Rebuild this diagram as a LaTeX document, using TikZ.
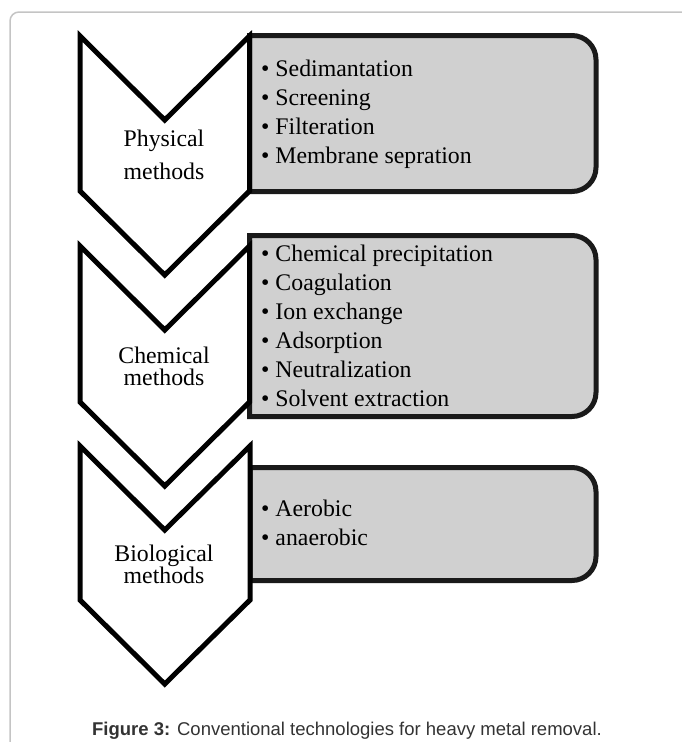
\documentclass[tikz,border=0pt]{standalone}
\usepackage{fontspec}
\setmainfont{Liberation Serif}
\newfontfamily\figcapfont{Liberation Sans}
\usetikzlibrary{positioning}
\definecolor{boxgray}{HTML}{D0D0D0}
\definecolor{boxline}{HTML}{1A1A1A}
\definecolor{framegray}{HTML}{C4C4C4}
\definecolor{captext}{HTML}{333333}
\tikzset{chev/.style={draw=black, fill=white, line width=5pt, line join=miter}}
\tikzset{itembox/.style={draw=boxline, fill=boxgray, line width=5pt}}
\tikzset{lab/.style={inner sep=0pt, font=\fontsize{23.8}{28}\selectfont, anchor=base}}
\tikzset{item/.style={inner sep=0pt, font=\fontsize{23.8}{28}\selectfont, anchor=base west}}

\begin{document}
\begin{tikzpicture}[x=1pt, y=-1pt]
\useasboundingbox (0,0) rectangle (681,742);

\draw[framegray, line width=1.5pt, rounded corners=9pt] (10,760) -- (10,12) -- (700,12);

% grey boxes, round on the right only
\draw[itembox] (300,35.5) [rounded corners=24pt] -- (596,35.5) -- (596,191.5) -- (300,191.5) [sharp corners] -- (249.5,191.5) -- (249.5,35.5) -- cycle;
\draw[itembox] (300,235.5) [rounded corners=24pt] -- (596,235.5) -- (596,416.5) -- (300,416.5) [sharp corners] -- (249.5,416.5) -- (249.5,235.5) -- cycle;
\draw[itembox] (300,467.5) [rounded corners=24pt] -- (596,467.5) -- (596,580.5) -- (300,580.5) [sharp corners] -- (250,580.5) -- (250,467.5) -- cycle;

% chevrons
\draw[chev] (80,36) -- (164.75,120) -- (249.5,36) -- (249.5,191) -- (164.75,275) -- (80,191) -- cycle;
\draw[chev] (80,246) -- (164.75,330) -- (249.5,246) -- (249.5,402) -- (164.75,486) -- (80,402) -- cycle;
\draw[chev] (80,446) -- (164.75,530) -- (250,446) -- (250,600) -- (164.75,684) -- (80,600) -- cycle;

\node[lab] (phys) at (164,146.7) {Physical};
\node[below=33pt of phys.base, lab] (physm) {methods};
\node[lab] (chem) at (164,363) {Chemical};
\node[below=22pt of chem.base, lab] (chemm) {methods};
\node[lab] (bio) at (164,561.7) {Biological};
\node[below=21.6pt of bio.base, lab] (biom) {methods};

\node[item] (sed) at (261,76) {\textbullet{} Sedimantation};
\node[below=29pt of sed.base west, item] (scr) {\textbullet{} Screening};
\node[below=29pt of scr.base west, item] (fil) {\textbullet{} Filteration};
\node[below=29pt of fil.base west, item] (mem) {\textbullet{} Membrane sepration};

\node[item] (prec) at (261,261) {\textbullet{} Chemical precipitation};
\node[below=29pt of prec.base west, item] (coag) {\textbullet{} Coagulation};
\node[below=29pt of coag.base west, item] (ion) {\textbullet{} Ion exchange};
\node[below=29pt of ion.base west, item] (ads) {\textbullet{} Adsorption};
\node[below=29pt of ads.base west, item] (neu) {\textbullet{} Neutralization};
\node[below=29pt of neu.base west, item] (solv) {\textbullet{} Solvent extraction};

\node[item] (aer) at (261,516.7) {\textbullet{} Aerobic};
\node[below=29pt of aer.base west, item] (anaer) {\textbullet{} anaerobic};

\node[inner sep=0pt, anchor=base, text=captext, font=\figcapfont\fontsize{18.5}{22}\selectfont] (cap) at (347,735) {\textbf{Figure 3:} Conventional technologies for heavy metal removal.};
\end{tikzpicture}
\end{document}
